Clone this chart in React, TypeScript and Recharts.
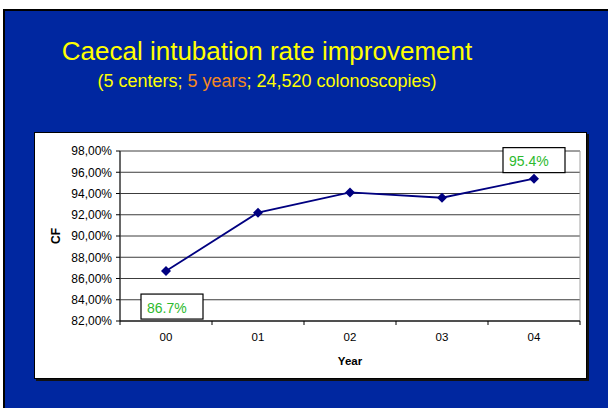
import { LineChart, Line, XAxis, YAxis, CartesianGrid, LabelList, ReferenceArea } from "recharts";

const years = ["00", "01", "02", "03", "04"];
const cfRate = [86.7, 92.2, 94.1, 93.6, 95.4];
const yTicks = [82, 84, 86, 88, 90, 92, 94, 96, 98];
const shownLabels = ["86.7%", "", "", "", "95.4%"];

const data = years.map((year, i) => ({ year, cf: cfRate[i], label: shownLabels[i] }));

const FONT = "'Liberation Sans', Arial, Helvetica, sans-serif";

const fmtPct = (v: number) => v.toFixed(2).replace(".", ",") + "%";

function Diamond(props: any) {
    const { cx, cy } = props;
    if (cx == null || cy == null) return null;
    const r = 5;
    return <path d={`M${cx},${cy - r}L${cx + r},${cy}L${cx},${cy + r}L${cx - r},${cy}Z`} fill="#000080" />;
}

function YearTick(props: any) {
    const { x, y, payload, index } = props;
    const half = payload?.offset ?? 0;
    return (
        <g>
            <line x1={x - half} y1={y} x2={x - half} y2={y + 4} stroke="#000" />
            {index === years.length - 1 ? <line x1={x + half} y1={y} x2={x + half} y2={y + 4} stroke="#000" /> : null}
            <text x={x} y={y + 16} textAnchor="middle" dominantBaseline="central" fontSize={11.5} fill="#000" fontFamily={FONT}>
                {payload.value}
            </text>
        </g>
    );
}

function BoxLabel(props: any) {
    const { x, y, value } = props;
    if (!value) return null;
    const w = 62;
    const h = 25;
    const below = value === shownLabels[0];
    const bx = below ? x - 25 : x - 31;
    const by = below ? y + 23 : y - 31;
    return (
        <g>
            <rect x={bx} y={by} width={w} height={h} fill="#fff" stroke="#000" strokeWidth={1.2} />
            <text x={bx + 6} y={by + h / 2 + 1} dominantBaseline="central" fontSize={14} fill="#2dba2d" fontFamily={FONT}>
                {value}
            </text>
        </g>
    );
}

export default function App() {
    return (
        <div style={{ position: "absolute", left: 0, top: 0, width: 608, height: 408, background: "#fff", overflow: "hidden", fontFamily: FONT }}>
            <div
                style={{
                    position: "absolute",
                    left: 3,
                    top: 9,
                    width: 610,
                    height: 405,
                    background: "#0027a0",
                    borderLeft: "2px solid #000",
                    borderTop: "2px solid #000",
                }}
            />
            <div style={{ position: "absolute", left: 0, width: 534, top: 35, textAlign: "center", color: "#ffff00", fontSize: 26, lineHeight: "32px" }}>
                Caecal intubation rate improvement
            </div>
            <div style={{ position: "absolute", left: 0, width: 534, top: 69, textAlign: "center", color: "#ffff00", fontSize: 18, lineHeight: "24px" }}>
                (5 centers; <span style={{ color: "#f5891f" }}>5 years</span>; 24,520 colonoscopies)
            </div>
            <div
                style={{
                    position: "absolute",
                    left: 34,
                    top: 132,
                    width: 551,
                    height: 245,
                    background: "#fff",
                    border: "1px solid #000",
                    boxShadow: "2px 2px 0 #111",
                }}
            >
                <LineChart width={551} height={245} data={data} margin={{ top: 18, right: 6, bottom: 0, left: 0 }}>
                    <ReferenceArea y1={82} y2={98} fill="none" stroke="#a0a0a0" ifOverflow="visible" />
                    <CartesianGrid vertical={false} stroke="#3c3c3c" />
                    <XAxis
                        dataKey="year"
                        scale="band"
                        height={57}
                        axisLine={{ stroke: "#000" }}
                        tickLine={false}
                        tickSize={0}
                        tickMargin={0}
                        tick={<YearTick />}
                        interval={0}
                        label={{ value: "Year", position: "insideBottom", offset: 13, fontSize: 11.5, fontWeight: "bold", fill: "#000", fontFamily: FONT }}
                    />
                    <YAxis
                        domain={[82, 98]}
                        ticks={yTicks}
                        width={85}
                        interval={0}
                        tickFormatter={fmtPct}
                        tickSize={4}
                        tickMargin={4}
                        axisLine={{ stroke: "#000" }}
                        tickLine={{ stroke: "#000" }}
                        tick={{ fontSize: 12, fill: "#000", fontFamily: FONT }}
                        label={{ value: "CF", angle: -90, position: "insideLeft", offset: 21, fontSize: 12, fontWeight: "bold", fill: "#000", fontFamily: FONT, style: { textAnchor: "middle" } }}
                    />
                    <Line dataKey="cf" stroke="#000080" strokeWidth={1.8} dot={<Diamond />} activeDot={false} isAnimationActive={false}>
                        <LabelList dataKey="label" content={<BoxLabel />} />
                    </Line>
                </LineChart>
            </div>
        </div>
    );
}
